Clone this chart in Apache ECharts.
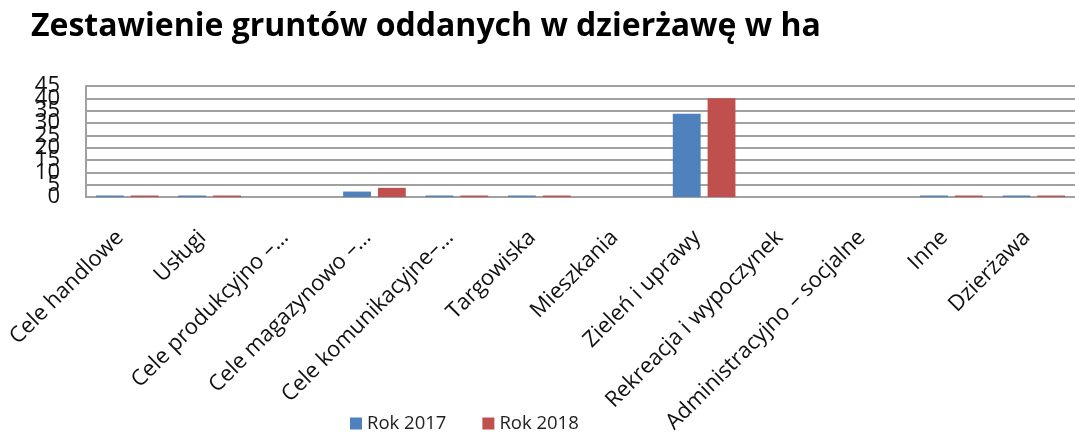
<!DOCTYPE html>
<html>
<head>
<meta charset="utf-8">
<script src="https://cdn.jsdelivr.net/npm/echarts@6/dist/echarts.min.js"></script>
<style>html,body{margin:0;padding:0;background:#fff;}#c{width:1075px;height:436px;}</style>
</head>
<body>
<div id="c"></div>
<script>
const categories = ["Cele handlowe","Usługi","Cele produkcyjno –…","Cele magazynowo –…","Cele komunikacyjne–…","Targowiska","Mieszkania","Zieleń i uprawy","Rekreacja i wypoczynek","Administracyjno – socjalne","Inne","Dzierżawa"];
const rok2017 = [0.6,0.6,0,2.2,0.6,0.6,0,33.7,0,0,0.6,0.6];
const rok2018 = [0.6,0.6,0,3.7,0.6,0.6,0,40,0,0,0.6,0.6];
const yTicks = {min:0,max:45,interval:5};
const FONT = 'Open Sans';
const chart = echarts.init(document.getElementById('c'));
function yAxisDef(parity, main){
  return {type:'value',min:yTicks.min,max:yTicks.max,interval:yTicks.interval,position:'left',
    axisLine:{show:main,lineStyle:{color:'#a0a0a0',width:2}},
    axisTick:{show:false},
    splitLine:{show:main,lineStyle:{color:'#a0a0a0',width:2}},
    axisLabel:{margin:26,fontFamily:FONT,fontSize:22,color:'#111',showMinLabel:true,showMaxLabel:true,
      formatter:function(v){return (v/yTicks.interval)%2===parity ? String(v) : '';}}};
}
chart.setOption({
  animation:false,
  backgroundColor:'#fff',
  title:{text:'Zestawienie gruntów oddanych w dzierżawę w ha',left:26,top:6,
    textStyle:{fontFamily:FONT,fontWeight:'bold',fontSize:32,color:'#000'}},
  legend:{top:409,left:345,itemWidth:12,itemHeight:12,itemGap:36,icon:'rect',
    textStyle:{fontFamily:FONT,fontSize:18.5,color:'#222'},data:['Rok 2017','Rok 2018']},
  grid:{left:86,top:86,width:996,height:111,containLabel:false},
  xAxis:{type:'category',data:categories,
    axisLine:{lineStyle:{color:'#a0a0a0',width:2}},axisTick:{show:false},
    axisLabel:{rotate:45,interval:0,margin:30,padding:[0,10,0,0],fontFamily:FONT,fontSize:22,color:'#111'}},
  yAxis:[yAxisDef(0,true), yAxisDef(1,false)],
  series:[
    {name:'Rok 2017',type:'bar',data:rok2017,barGap:'25%',barCategoryGap:'24%',itemStyle:{color:'#4F81BD'}},
    {name:'Rok 2018',type:'bar',data:rok2018,itemStyle:{color:'#C0504D'}}
  ]
});
</script>
</body>
</html>
